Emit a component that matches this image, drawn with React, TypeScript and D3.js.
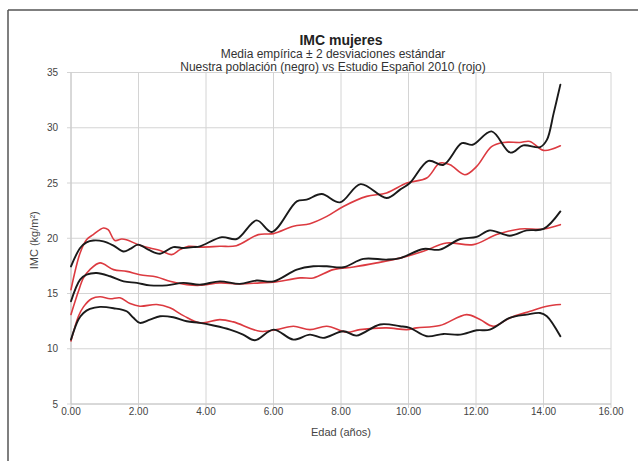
import React from "react";
import * as d3 from "d3";

const title = "IMC mujeres";
const subtitle1 = "Media empírica ± 2 desviaciones estándar";
const subtitle2 = "Nuestra población (negro) vs Estudio Español 2010 (rojo)";
const xLabel = "Edad (años)";
const yLabel = "IMC (kg/m²)";

const xTicks = [0, 2, 4, 6, 8, 10, 12, 14, 16];
const yTicks = [5, 10, 15, 20, 25, 30, 35];

// [age, BMI] pairs
const blackUpper: [number, number][] = [[0,17.45],[0.27,19.12],[0.46,19.63],[0.66,19.8],[0.96,19.72],[1.26,19.33],[1.56,18.8],[1.75,19.03],[1.99,19.42],[2.29,18.97],[2.64,18.6],[3.03,19.2],[3.33,19.12],[3.62,19.2],[3.82,19.27],[4.47,20.1],[4.91,19.93],[5.5,21.62],[5.95,20.57],[6.69,23.34],[6.98,23.49],[7.43,24.0],[7.97,23.25],[8.58,24.9],[9.35,23.64],[9.75,24.4],[10.04,25.0],[10.59,27.0],[11.04,26.65],[11.58,28.6],[11.9,28.46],[12.46,29.67],[13.02,27.75],[13.4,28.4],[13.9,28.25],[14.1,28.9],[14.3,31.3],[14.5,33.9]];
const redUpper: [number, number][] = [[0,15.35],[0.27,18.67],[0.46,19.87],[0.66,20.33],[0.96,20.93],[1.1,20.78],[1.3,19.8],[1.5,19.93],[1.64,19.87],[1.99,19.42],[2.34,19.12],[2.64,18.9],[2.98,18.52],[3.23,18.97],[3.48,19.27],[3.82,19.2],[4.41,19.27],[4.9,19.33],[5.55,20.33],[6.0,20.42],[6.59,21.08],[7.08,21.32],[7.58,21.98],[8.07,22.88],[8.76,23.79],[9.35,24.1],[9.95,25.0],[10.54,25.45],[10.93,26.8],[11.23,26.65],[11.67,25.75],[12.02,26.5],[12.46,28.3],[12.81,28.67],[13.3,28.67],[13.6,28.76],[14.0,27.95],[14.5,28.37]];
const blackMiddle: [number, number][] = [[0,14.3],[0.27,16.25],[0.46,16.7],[0.76,16.86],[1.16,16.56],[1.56,16.1],[1.95,15.96],[2.34,15.74],[2.84,15.74],[3.33,15.96],[3.82,15.8],[4.41,16.1],[5.0,15.87],[5.5,16.17],[6.0,16.1],[6.69,17.16],[7.18,17.46],[7.58,17.46],[8.07,17.37],[8.66,18.13],[9.35,18.07],[9.75,18.2],[10.44,19.03],[10.93,18.97],[11.53,19.93],[12.02,20.12],[12.41,20.71],[13.0,20.23],[13.5,20.71],[14.0,20.84],[14.5,22.43]];
const redMiddle: [number, number][] = [[0,13.1],[0.22,15.2],[0.37,16.41],[0.56,17.16],[0.86,17.77],[1.26,17.16],[1.65,17.0],[2.04,16.7],[2.54,16.5],[2.93,16.1],[3.43,15.8],[3.82,15.74],[4.41,15.96],[5.0,15.87],[5.6,15.96],[6.0,16.02],[6.79,16.41],[7.18,16.41],[7.77,17.16],[8.37,17.4],[9.06,17.77],[9.75,18.2],[10.44,18.82],[11.13,19.57],[11.92,19.42],[12.61,20.33],[13.3,20.84],[14.0,20.84],[14.5,21.23]];
const blackLower: [number, number][] = [[0,10.83],[0.22,12.64],[0.37,13.24],[0.56,13.6],[0.86,13.79],[1.26,13.67],[1.65,13.39],[1.85,12.8],[2.04,12.34],[2.34,12.64],[2.64,12.94],[3.03,12.85],[3.43,12.49],[3.82,12.34],[4.22,12.1],[4.71,11.73],[5.1,11.28],[5.45,10.77],[6.0,11.73],[6.59,10.83],[7.08,11.28],[7.47,10.98],[8.07,11.58],[8.46,11.19],[9.16,12.2],[9.75,12.04],[10.04,11.89],[10.54,11.13],[11.04,11.34],[11.53,11.28],[12.02,11.67],[12.41,11.73],[13.0,12.79],[13.5,13.09],[13.9,13.24],[14.1,12.94],[14.5,11.13]];
const redLower: [number, number][] = [[0,10.7],[0.22,12.94],[0.37,13.79],[0.61,14.52],[0.86,14.7],[1.16,14.52],[1.45,14.61],[1.75,14.09],[2.04,13.85],[2.54,14.0],[2.93,13.7],[3.33,13.0],[3.82,12.34],[4.41,12.64],[4.81,12.43],[5.6,11.58],[6.1,11.73],[6.59,12.04],[7.08,11.73],[7.58,12.04],[8.17,11.5],[8.56,11.73],[9.35,11.89],[9.95,11.73],[10.24,11.89],[10.93,12.1],[11.72,13.09],[12.12,12.64],[12.51,12.04],[13.0,12.79],[13.6,13.39],[14.1,13.85],[14.5,14.0]];

const BLACK = "#1a1a1a";
const RED = "#dc3a40";

const seriesList = [
  { data: redUpper, color: RED, w: 1.6 },
  { data: redMiddle, color: RED, w: 1.6 },
  { data: redLower, color: RED, w: 1.6 },
  { data: blackUpper, color: BLACK, w: 1.9 },
  { data: blackMiddle, color: BLACK, w: 1.9 },
  { data: blackLower, color: BLACK, w: 1.9 },
];

export default function App() {
  const W = 638, H = 461;
  const left = 71, right = 611, top = 72.5, bottom = 404;
  const x = d3.scaleLinear().domain([0, 16]).range([left, right]);
  const y = d3.scaleLinear().domain([5, 35]).range([bottom, top]);
  const line = d3
    .line<[number, number]>()
    .x((d) => x(d[0]))
    .y((d) => y(d[1]))
    .curve(d3.curveCatmullRom.alpha(0.5));
  const font = "'Liberation Sans', Arial, sans-serif";
  const cx = (left + right) / 2;
  return (
    <svg
      width={W}
      height={H}
      style={{ position: "absolute", left: 0, top: 0, background: "#fff" }}
      fontFamily={font}
    >
      <rect x={0} y={0} width={W} height={H} fill="#fff" />
      <line x1={8} y1={10} x2={W} y2={10} stroke="#555" strokeWidth={1.5} />
      <line x1={8} y1={10} x2={8} y2={H} stroke="#555" strokeWidth={1.5} />
      {xTicks.map((t) => (
        <g key={"x" + t}>
          <line x1={x(t)} x2={x(t)} y1={top} y2={bottom + 4} stroke="#d4d4d4" strokeWidth={1} />
          <text x={x(t)} y={415} textAnchor="middle" fontSize={10} fill="#444">
            {t.toFixed(2)}
          </text>
        </g>
      ))}
      {yTicks.map((t) => (
        <g key={"y" + t}>
          <line x1={left - 4} x2={right} y1={y(t)} y2={y(t)} stroke="#d4d4d4" strokeWidth={1} />
          <text x={left - 13} y={y(t) + 3.5} textAnchor="end" fontSize={10} fill="#444">
            {t}
          </text>
        </g>
      ))}
      <line x1={left} x2={left} y1={top} y2={bottom} stroke="#c8c8c8" strokeWidth={1} />
      <line x1={left} x2={right} y1={bottom} y2={bottom} stroke="#c8c8c8" strokeWidth={1} />
      {seriesList.map((s, i) => (
        <path key={i} d={line(s.data) || ""} fill="none" stroke={s.color} strokeWidth={s.w} strokeLinejoin="round" strokeLinecap="round" />
      ))}
      <text x={cx} y={45} textAnchor="middle" fontSize={14} fontWeight="bold" fill="#222">
        {title}
      </text>
      <text x={cx - 8} y={58} textAnchor="middle" fontSize={12} fill="#333">
        {subtitle1}
      </text>
      <text x={cx - 8} y={70.5} textAnchor="middle" fontSize={12} fill="#333">
        {subtitle2}
      </text>
      <text x={cx} y={436} textAnchor="middle" fontSize={11} fill="#444">
        {xLabel}
      </text>
      <text transform={`translate(38, ${(top + bottom) / 2 + 2}) rotate(-90)`} textAnchor="middle" fontSize={11} fill="#444">
        {yLabel}
      </text>
    </svg>
  );
}
